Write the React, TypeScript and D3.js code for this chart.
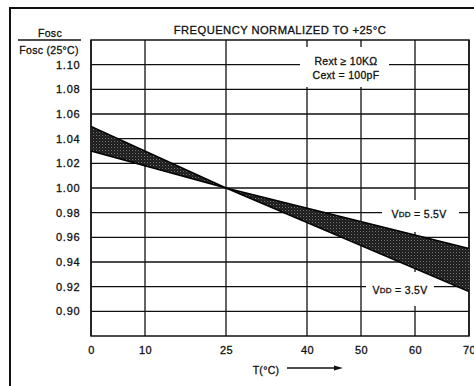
import React from "react";
import * as d3 from "d3";

const temps = [0, 25, 70];
const vdd35 = [1.05, 1.0, 0.916];
const vdd55 = [1.03, 1.0, 0.951];
const xTicks = [0, 10, 25, 40, 50, 60, 70];
const yTicks = [0.9, 0.92, 0.94, 0.96, 0.98, 1.0, 1.02, 1.04, 1.06, 1.08, 1.1];
const title = "FREQUENCY NORMALIZED TO +25°C";

const W = 474, H = 386;
const FONT = "'Liberation Sans', Arial, Helvetica, sans-serif";

export default function App() {
  const x = d3.scaleLinear().domain([0, 70]).range([91, 469]);
  const y = d3.scaleLinear().domain([0.88, 1.12]).range([336, 40]);
  const area = d3
    .area<number>()
    .x((_, i) => x(temps[i]))
    .y0((_, i) => y(vdd35[i]))
    .y1((_, i) => y(vdd55[i]));
  const line = d3.line<number>().x((_, i) => x(temps[i])).y((d) => y(d));
  const l35 = line(vdd35) || "";
  const l55 = line(vdd55) || "";
  const bandPath = area(temps) || "";
  const x0 = x(0), x1 = x(70), y0 = y(0.88), y1 = y(1.12);
  const tp = { fill: "#111", stroke: "#111", strokeWidth: 0.3, dominantBaseline: "central" as const };
  return (
    <svg width={W} height={H} style={{ position: "absolute", left: 0, top: 0 }} fontFamily={FONT}>
      <defs>
        <pattern id="stip" width="3" height="3" patternUnits="userSpaceOnUse">
          <rect width="3" height="3" fill="#1c1c1c" />
          <rect x="0" y="0" width="1" height="1" fill="#777" />
          <rect x="1.5" y="1.5" width="0.8" height="0.8" fill="#555" />
        </pattern>
      </defs>
      <rect x={0} y={0} width={W} height={H} fill="#fff" />
      <rect x={10} y={8} width={480} height={400} fill="none" stroke="#111" strokeWidth={2} />
      {yTicks.map((v) => (
        <line key={"h" + v} x1={x0} x2={x1} y1={y(v)} y2={y(v)} stroke="#111" strokeWidth={1.3} />
      ))}
      {xTicks.map((v) => (
        <line key={"v" + v} x1={x(v)} x2={x(v)} y1={y1} y2={y0} stroke="#111" strokeWidth={1.3} />
      ))}
      <rect x={x0} y={y1} width={x1 - x0} height={y0 - y1} fill="none" stroke="#111" strokeWidth={1.5} />
      <rect x={300} y={47} width={89} height={40} fill="#fff" />
      <rect x={382} y={200} width={77} height={32} fill="#fff" />
      <rect x={366} y={272} width={68} height={34} fill="#fff" />
      <path d={bandPath} fill="url(#stip)" stroke="none" />
      <path d={l35} fill="none" stroke="#000" strokeWidth={1.5} />
      <path d={l55} fill="none" stroke="#000" strokeWidth={1.5} />
      <text x={280} y={30} fontSize={11.2} letterSpacing={0.45} textAnchor="middle" {...tp}>
        {title}
      </text>
      <text x={50} y={33} fontSize={10.5} letterSpacing={0.3} textAnchor="middle" {...tp}>Fosc</text>
      <line x1={18} x2={81} y1={40} y2={40} stroke="#111" strokeWidth={1.5} />
      <text x={49} y={50} fontSize={10.5} letterSpacing={0.3} textAnchor="middle" {...tp}>Fosc (25°C)</text>
      {yTicks.map((v) => (
        <text key={"yt" + v} x={80.5} y={y(v)} fontSize={11} letterSpacing={0.8} textAnchor="end" {...tp}>
          {v.toFixed(2)}
        </text>
      ))}
      {xTicks.map((v) => (
        <text key={"xt" + v} x={x(v) + 0.5} y={350} fontSize={11} letterSpacing={0.5} textAnchor="middle" {...tp}>
          {v}
        </text>
      ))}
      <text x={346} y={61} fontSize={10.5} letterSpacing={0.3} textAnchor="middle" {...tp}>Rext ≥ 10KΩ</text>
      <text x={346} y={75} fontSize={10.5} letterSpacing={0.3} textAnchor="middle" {...tp}>Cext = 100pF</text>
      <text x={419} y={214} fontSize={10.5} letterSpacing={0.3} textAnchor="middle" {...tp}>
        V<tspan fontSize={8}>DD</tspan> = 5.5V
      </text>
      <text x={400} y={290} fontSize={10.5} letterSpacing={0.3} textAnchor="middle" {...tp}>
        V<tspan fontSize={8}>DD</tspan> = 3.5V
      </text>
      <text x={266} y={370} fontSize={10.5} letterSpacing={0.3} textAnchor="middle" {...tp}>T(°C)</text>
      <line x1={287} x2={336} y1={368} y2={368} stroke="#111" strokeWidth={1.5} />
      <path d="M 334 365.5 L 343 368 L 334 370.5 Z" fill="#111" />
    </svg>
  );
}
